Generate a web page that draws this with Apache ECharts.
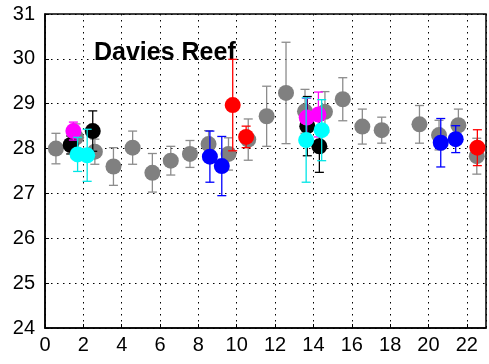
<!DOCTYPE html>
<html>
<head>
<meta charset="utf-8">
<script src="https://cdn.jsdelivr.net/npm/echarts@6/dist/echarts.min.js"></script>
<style>
html, body { margin: 0; padding: 0; background: #fff; }
#chart { width: 489px; height: 364px; }
</style>
</head>
<body>
<div id="chart"></div>
<script>
// hour of day, mean temperature, error (one group per colour)
var grayX = [0.57, 1.62, 2.6, 3.57, 4.57, 5.6, 6.56, 7.56, 8.53, 9.57, 10.6, 11.56, 12.57, 13.56, 14.6, 15.53, 16.55, 17.56, 19.53, 20.55, 21.56, 22.52];
var grayY = [28.0, 28.25, 27.93, 27.6, 28.02, 27.46, 27.73, 27.88, 28.1, 27.88, 28.2, 28.72, 29.24, 28.83, 28.82, 29.1, 28.49, 28.41, 28.54, 28.3, 28.52, 27.83];
var grayE = [0.34, 0.3, 0.28, 0.42, 0.37, 0.43, 0.32, 0.3, 0.3, 0.36, 0.46, 0.67, 1.13, 0.49, 0.45, 0.48, 0.39, 0.29, 0.42, 0.33, 0.36, 0.4];

var blackX = [1.34, 2.49, 13.68, 14.31];
var blackY = [28.08, 28.39, 28.5, 28.05];
var blackE = [0.2, 0.45, 0.66, 0.58];

var magentaX = [1.48, 13.65, 14.26];
var magentaY = [28.39, 28.69, 28.76];
var magentaE = [0.2, 0.43, 0.5];

var cyanX = [1.7, 2.2, 13.62, 14.43];
var cyanY = [27.87, 27.85, 28.19, 28.41];
var cyanE = [0.38, 0.58, 0.94, 0.68];

var blueX = [8.6, 9.22, 20.64, 21.42];
var blueY = [27.82, 27.61, 28.13, 28.21];
var blueE = [0.57, 0.66, 0.54, 0.3];

var redX = [9.79, 10.49, 22.55];
var redY = [28.97, 28.26, 28.02];
var redE = [1.02, 0.24, 0.4];

var groups = [
    {x: grayX, y: grayY, e: grayE, color: "#808080", bar: "#8c8c8c"},
    {x: blackX, y: blackY, e: blackE, color: "#000000", bar: "#000000"},
    {x: magentaX, y: magentaY, e: magentaE, color: "#ff00ff", bar: "#ff00ff"},
    {x: cyanX, y: cyanY, e: cyanE, color: "#00ffff", bar: "#00e5e5"},
    {x: blueX, y: blueY, e: blueE, color: "#0000ff", bar: "#0000ff"},
    {x: redX, y: redY, e: redE, color: "#ff0000", bar: "#ff0000"}
];

function errorBars(barColor) {
    return function (params, api) {
        var x = api.value(0);
        var top = api.coord([x, api.value(1) + api.value(2)]);
        var bot = api.coord([x, api.value(1) - api.value(2)]);
        var cap = 4.5;
        var st = {stroke: barColor, lineWidth: 1.3};
        return {
            type: "group",
            children: [
                {type: "line", shape: {x1: top[0], y1: top[1], x2: bot[0], y2: bot[1]}, style: st},
                {type: "line", shape: {x1: top[0] - cap, y1: top[1], x2: top[0] + cap, y2: top[1]}, style: st},
                {type: "line", shape: {x1: bot[0] - cap, y1: bot[1], x2: bot[0] + cap, y2: bot[1]}, style: st}
            ]
        };
    };
}

var series = [];
for (var g = 0; g < groups.length; g++) {
    var grp = groups[g];
    var pts = [];
    for (var i = 0; i < grp.x.length; i++) {
        pts.push([grp.x[i], grp.y[i], grp.e[i]]);
    }
    series.push({
        type: "custom",
        renderItem: errorBars(grp.bar),
        data: pts,
        z: 2 + g * 2,
        silent: true,
        clip: false
    });
    series.push({
        type: "scatter",
        data: pts,
        symbol: "circle",
        symbolSize: 16,
        itemStyle: {color: grp.color, opacity: 1},
        z: 3 + g * 2,
        silent: true
    });
}

var font = "'Liberation Sans', Arial, sans-serif";
var dots = {color: "#000", width: 1, type: [1.5, 4.5]};

var chart = echarts.init(document.getElementById("chart"));
chart.setOption({
    animation: false,
    backgroundColor: "#fff",
    grid: {left: 45, top: 14, right: 3, bottom: 36, show: true, borderColor: "#000", borderWidth: 1.5, backgroundColor: "transparent"},
    title: {
        text: "Davies Reef",
        left: 89,
        top: 36,
        textStyle: {fontFamily: font, fontWeight: "bold", fontSize: 25, color: "#000"}
    },
    xAxis: {
        type: "value",
        min: 0,
        max: 23,
        interval: 2,
        axisLine: {show: true, lineStyle: {color: "#000", width: 1.5}},
        axisTick: {show: true, inside: true, length: 4, lineStyle: {color: "#000"}},
        axisLabel: {fontFamily: font, fontSize: 20, color: "#000", margin: 7, showMaxLabel: false},
        splitLine: {show: true, lineStyle: dots}
    },
    yAxis: {
        type: "value",
        min: 24,
        max: 31,
        interval: 1,
        axisLine: {show: true, lineStyle: {color: "#000", width: 1.5}},
        axisTick: {show: true, inside: true, length: 4, lineStyle: {color: "#000"}},
        axisLabel: {fontFamily: font, fontSize: 20, color: "#000", margin: 10},
        splitLine: {show: true, lineStyle: dots}
    },
    series: series
});
</script>
</body>
</html>
